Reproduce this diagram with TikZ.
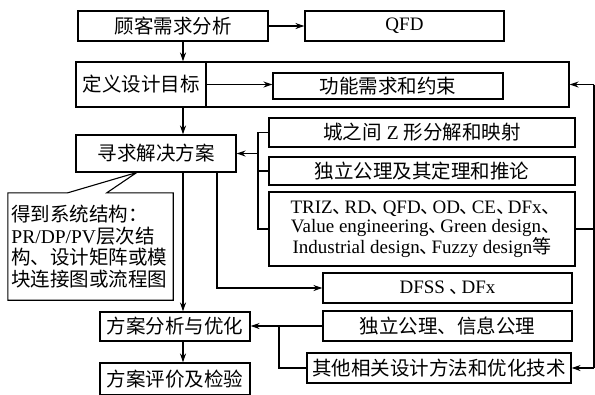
\documentclass[tikz,border=0pt]{standalone}
\usepackage{fontspec}
\setmainfont{Liberation Serif}
\newfontfamily\cjk{Noto Sans CJK SC}
\usetikzlibrary{arrows.meta,calc}
\newcommand{\dun}{\makebox[0.62em][l]{\cjk 、}}
\begin{document}
\begin{tikzpicture}[x=1pt,y=-1pt,
  box/.style={draw,line width=1.1pt,inner sep=0pt,align=center},
  zh/.style={font=\cjk\fontsize{19.5}{21}\selectfont},
  lat/.style={font=\fontsize{19}{19}\selectfont},
  arr/.style={line width=1.1pt,-{Stealth[length=9pt,width=6pt]}},
  ln/.style={line width=1.1pt}]
\useasboundingbox (0,0) rectangle (595,394);
% boxes
\node[box,zh,minimum width=190pt,minimum height=30pt] (b1) at (173,26) {顾客需求分析};
\node[box,lat,minimum width=199pt,minimum height=30pt] (qfd) at (404.5,26) {QFD};
\node[box,minimum width=493pt,minimum height=45pt] (big) at (322.5,84.5) {};
\node[box,zh,minimum width=130pt,minimum height=45pt] (def) at (141,84.5) {定义设计目标};
\node[box,zh,minimum width=230pt,minimum height=26pt] (func) at (388,86) {功能需求和约束};
\node[box,zh,minimum width=160pt,minimum height=37pt] (seek) at (156,153.5) {寻求解决方案};
\node[box,font=\fontsize{19.5}{21}\selectfont,minimum width=306pt,minimum height=29pt] (zb) at (422,132.5) {{\cjk 城之间} Z {\cjk 形分解和映射}};
\node[box,zh,minimum width=306pt,minimum height=28pt] (axb) at (422,171) {独立公理及其定理和推论};
\node[box,lat,minimum width=306pt,minimum height=74pt] (triz) at (422,229)
  {TRIZ\dun RD\dun QFD\dun OD\dun CE\dun DFx\dun\\Value engineering\dun Green design\dun\\Industrial design\dun Fuzzy design{\cjk 等}};
\node[inner sep=0pt,minimum width=165pt,minimum height=107pt,text width=158pt,align=left,
  font=\fontsize{19.5}{21.7}\selectfont] (cal) at (90.5,246.5)
  {{\cjk 得到系统结构：}\\PR/DP/PV{\cjk 层次结}\\{\cjk 构、设计矩阵或模}\\{\cjk 块连接图或流程图}};
\node[box,lat,minimum width=249pt,minimum height=30pt] (dfss) at (447.5,288) {DFSS \dun DFx};
\node[box,zh,minimum width=150pt,minimum height=29pt] (ana) at (175,326.5) {方案分析与优化};
\node[box,zh,minimum width=249pt,minimum height=30pt] (ia) at (447.5,326) {独立公理、信息公理};
\node[box,zh,minimum width=264pt,minimum height=30pt] (oth) at (439,368) {其他相关设计方法和优化技术};
\node[box,zh,minimum width=150pt,minimum height=32pt] (eval) at (175,379) {方案评价及检验};
% helper coordinates
\coordinate (vx) at (183,0);
\coordinate (vy) at (217,0);
\coordinate (br) at (258,0);
\coordinate (rr) at (594,0);
\coordinate (jx) at (279,0);
\coordinate (tip) at ($(seek.south west)!0.38!(seek.south east)$);
% callout outline
\draw[ln] (cal.north west) -- ($(cal.north west)+(60,0)$) -- (tip) -- ($(cal.north west)+(99,0)$)
  -- (cal.north east) -- (cal.south east) -- (cal.south west) -- cycle;
% connectors
\draw[arr] (b1) -- (qfd);
\draw[arr] (b1.south -| vx) -- (big.north -| vx);
\draw[arr] (def.east) -- (def.east -| func.west);
\draw[arr] (big.south -| vx) -- (seek.north -| vx);
\draw[ln] (zb.west) -- (zb.west -| br) -- (triz.west -| br) -- (triz.west);
\draw[ln] (axb.west) -- (axb.west -| br);
\draw[arr] (seek.east -| br) -- (seek.east);
\draw[ln] (triz.east) -- (triz.east -| rr);
\draw[ln] (def.east -| rr) -- (oth.east -| rr);
\draw[arr] (def.east -| rr) -- (def.east -| big.east);
\draw[arr] (oth.east -| rr) -- (oth.east);
\draw[arr] (seek.south -| vx) -- (ana.north -| vx);
\draw[arr] (seek.south -| vy) |- (dfss.west);
\draw[arr] (ia.west) -- (ia.west -| ana.east);
\draw[ln] (oth.west) -| (ia.west -| jx);
\draw[arr] (ana.south -| vx) -- (eval.north -| vx);
\end{tikzpicture}
\end{document}
